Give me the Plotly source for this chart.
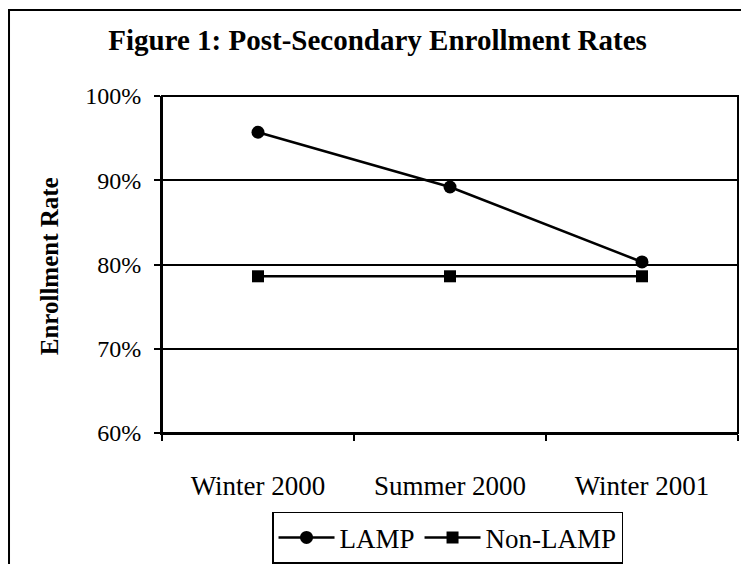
import plotly.graph_objects as go

terms = ["Winter 2000", "Summer 2000", "Winter 2001"]
lamp = [0.957, 0.892, 0.803]
non_lamp = [0.786, 0.786, 0.786]
y_ticks = [0.6, 0.7, 0.8, 0.9, 1.0]

SERIF = "Liberation Serif, Times New Roman, serif"

fig = go.Figure()
fig.add_trace(go.Scatter(x=terms, y=lamp, name="LAMP", mode="lines+markers",
                         line=dict(color="black", width=2.5),
                         marker=dict(symbol="circle", size=13, color="black")))
fig.add_trace(go.Scatter(x=terms, y=non_lamp, name="Non-LAMP", mode="lines+markers",
                         line=dict(color="black", width=2.5),
                         marker=dict(symbol="square", size=12, color="black")))

# outer chart border (runs off the right/bottom of the scan)
fig.add_shape(type="rect", xref="paper", yref="paper", x0=-0.2656, x1=1.1, y0=-0.6, y1=1.255,
              line=dict(color="black", width=2), layer="below")
# plot-area frame
fig.add_shape(type="rect", xref="paper", yref="paper", x0=0, x1=1, y0=0, y1=1,
              line=dict(color="black", width=2), layer="above")

fig.add_annotation(text="<b>Enrollment Rate</b>", textangle=-90, showarrow=False,
                   xref="paper", yref="paper", x=-0.196, y=0.495,
                   xanchor="center", yanchor="middle",
                   font=dict(family=SERIF, size=25, color="black"))

# page body has an 8px margin, so the figure is 8px smaller than the window
fig.update_layout(
    width=741, height=556,
    paper_bgcolor="white", plot_bgcolor="white",
    margin=dict(l=154, r=11, t=88, b=131, autoexpand=False),
    font=dict(family=SERIF, color="black", size=24),
    title=dict(text="<b>Figure 1: Post-Secondary Enrollment Rates</b>",
               x=0.4987, xanchor="center", y=0.9424, yanchor="middle",
               font=dict(family=SERIF, size=29, color="black")),
    xaxis=dict(type="category", range=[-0.5, 2.5], showgrid=False, zeroline=False,
               showline=True, linecolor="black", linewidth=2, automargin=False,
               ticks="outside", tickson="boundaries", ticklen=6, tickwidth=2, tickcolor="black",
               ticklabelstandoff=28,
               tickfont=dict(family=SERIF, size=27, color="black")),
    yaxis=dict(range=[0.6, 1.0], tickvals=y_ticks, tickformat=".0%",
               showgrid=True, gridcolor="black", gridwidth=2, zeroline=False,
               showline=True, linecolor="black", linewidth=2, automargin=False,
               ticks="outside", ticklen=6, tickwidth=2, tickcolor="black",
               ticklabelstandoff=8,
               tickfont=dict(family=SERIF, size=24, color="black")),
    legend=dict(orientation="h", x=0.4957, xanchor="center", y=-0.234, yanchor="top",
                bordercolor="black", borderwidth=1.5, bgcolor="white",
                font=dict(family=SERIF, size=27, color="black"),
                itemwidth=56, tracegroupgap=0),
    showlegend=True,
)

fig.write_html("out.html")
